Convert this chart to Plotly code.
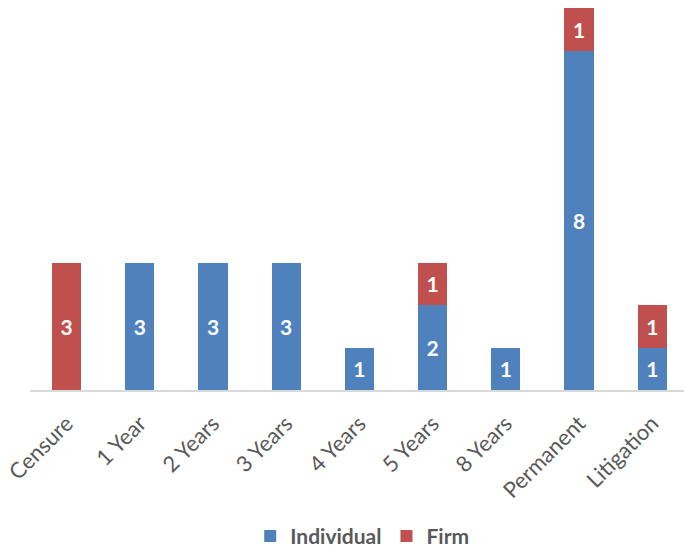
import plotly.graph_objects as go

categories = ["Censure", "1 Year", "2 Years", "3 Years", "4 Years",
              "5 Years", "8 Years", "Permanent", "Litigation"]
individual = [0, 3, 3, 3, 1, 2, 1, 8, 1]
firm = [3, 0, 0, 0, 0, 1, 0, 1, 1]

BLUE = "#4F81BD"
RED = "#C0504D"
GRAY = "#595959"
FONT = "Lato"


def labels(values):
    return [str(v) if v else "" for v in values]


fig = go.Figure()
for name, vals, color in [("Individual", individual, BLUE), ("Firm", firm, RED)]:
    fig.add_trace(go.Bar(
        name=name, x=categories, y=vals, marker_color=color,
        marker_line_width=0,
        text=labels(vals), textposition="inside", insidetextanchor="middle",
        textangle=0,
        textfont=dict(family=FONT, size=21, color="white", weight="bold"),
        hoverinfo="x+y+name",
    ))

fig.update_layout(
    barmode="stack",
    bargap=0.6,
    width=684, height=550,
    margin=dict(l=30, r=0, t=0, b=160, autoexpand=False),
    plot_bgcolor="white", paper_bgcolor="white",
    font=dict(family=FONT, color=GRAY),
    uniformtext=dict(minsize=8, mode="show"),
    xaxis=dict(
        range=[-0.5, 8.434], tickangle=-45, showgrid=False,
        showline=True, linecolor="#D9D9D9", linewidth=2,
        ticks="", ticklabelstandoff=10, automargin=False,
        tickfont=dict(family=FONT, size=22, color=GRAY),
    ),
    yaxis=dict(range=[0, 9.19], visible=False, showgrid=False),
    legend=dict(
        orientation="h", x=0.508, xanchor="center",
        yref="container", y=0.025, yanchor="middle",
        font=dict(family=FONT, size=21, color=GRAY, weight="bold"),
        itemwidth=30, traceorder="normal",
    ),
)

fig.write_html("out.html")
